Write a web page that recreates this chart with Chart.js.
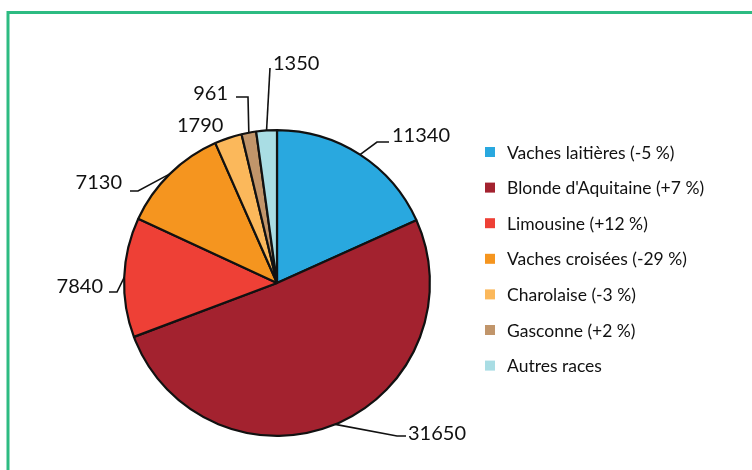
<!DOCTYPE html>
<html>
<head>
<meta charset="utf-8">
<script src="https://cdn.jsdelivr.net/npm/chart.js@4.4.1/dist/chart.umd.min.js"></script>
<style>
  html, body { margin: 0; padding: 0; background: #fff; }
  #wrap { width: 752px; height: 470px; }
</style>
</head>
<body>
<div id="wrap"><canvas id="pie" width="752" height="470"></canvas></div>
<script>
// races bovines, effectifs
const categories = [
    "Vaches laitières (-5 %)",
    "Blonde d'Aquitaine (+7 %)",
    "Limousine (+12 %)",
    "Vaches croisées (-29 %)",
    "Charolaise (-3 %)",
    "Gasconne (+2 %)",
    "Autres races",
];
const values = [11340, 31650, 7840, 7130, 1790, 961, 1350];
const colors = ["#29a8df", "#a3222f", "#ee4036", "#f5951f", "#fbb85b", "#c1956a", "#a9dde4"];

// where each value label sits, and the elbow of its leader line
const labelLayout = [
    { x: 392, y: 142, align: "left", path: [[377, 142], [389, 142]] },
    { x: 408, y: 440, align: "left", path: [[397, 436], [406, 436]] },
    { x: 103, y: 293, align: "right", path: [[117, 292], [109, 292]] },
    { x: 122, y: 189, align: "right", path: [[138, 191], [130, 191]] },
    { x: 177, y: 132, align: "left", path: null },
    { x: 228, y: 100, align: "right", path: [[248, 97], [236, 97]] },
    { x: 273, y: 70, align: "left", path: [[270, 68]] },
];

const FONT = "Lato, 'Open Sans', sans-serif";

const framePlugin = {
    id: "frame",
    beforeDraw(chart) {
        const ctx = chart.ctx;
        ctx.save();
        ctx.strokeStyle = "#2dbb82";
        ctx.lineWidth = 3;
        ctx.beginPath();
        ctx.moveTo(8, 470);
        ctx.lineTo(8, 12.5);
        ctx.lineTo(752, 12.5);
        ctx.stroke();
        ctx.restore();
    },
};

const labelsPlugin = {
    id: "valueLabels",
    afterDraw(chart) {
        const ctx = chart.ctx;
        const arcs = chart.getDatasetMeta(0).data;
        ctx.save();

        // leader lines + numbers
        ctx.strokeStyle = "#111";
        ctx.lineWidth = 1.6;
        ctx.fillStyle = "#111";
        ctx.font = "20px " + FONT;
        ctx.textBaseline = "alphabetic";
        arcs.forEach((arc, i) => {
            const lay = labelLayout[i];
            if (lay.path) {
                const mid = (arc.startAngle + arc.endAngle) / 2;
                const ax = arc.x + Math.cos(mid) * arc.outerRadius;
                const ay = arc.y + Math.sin(mid) * arc.outerRadius;
                ctx.beginPath();
                ctx.moveTo(ax, ay);
                lay.path.forEach((p) => ctx.lineTo(p[0], p[1]));
                ctx.stroke();
            }
            ctx.textAlign = lay.align;
            ctx.fillText(String(values[i]), lay.x, lay.y);
        });

        // legend
        ctx.font = "17.5px " + FONT;
        ctx.textAlign = "left";
        ctx.textBaseline = "middle";
        categories.forEach((name, i) => {
            const cy = 152 + i * 35.6;
            ctx.fillStyle = colors[i];
            ctx.fillRect(485, cy - 5, 10, 10);
            ctx.fillStyle = "#111";
            ctx.fillText(name, 507, cy + 1);
        });

        ctx.restore();
    },
};

new Chart(document.getElementById("pie"), {
    type: "pie",
    data: {
        labels: categories,
        datasets: [
            {
                data: values,
                backgroundColor: colors,
                borderColor: "#111",
                borderWidth: 2.2,
            },
        ],
    },
    options: {
        responsive: false,
        animation: false,
        layout: {
            padding: { top: 129, bottom: 33, left: 123, right: 321 },
        },
        plugins: {
            legend: { display: false },
            tooltip: { enabled: false },
        },
    },
    plugins: [framePlugin, labelsPlugin],
});
</script>
</body>
</html>
